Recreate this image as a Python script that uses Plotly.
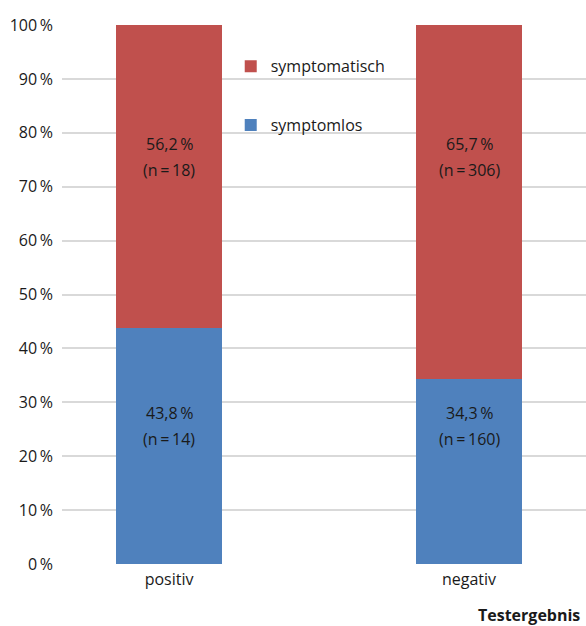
import plotly.graph_objects as go

# Share of patients with / without symptoms by test result (stacked to 100 %)
categories = ["positiv", "negativ"]
symptomlos_pct = [43.8, 34.3]
symptomlos_n = [14, 160]
symptomatisch_pct = [56.2, 65.7]
symptomatisch_n = [18, 306]
y_ticks = [0, 10, 20, 30, 40, 50, 60, 70, 80, 90, 100]

BLUE = "#4F81BD"
RED = "#C0504D"
FONT = "Open Sans"
FS = 16
TXT = "#1a1a1a"
THIN = "\u2009"

def fmt(v):
    return f"{v:.1f}".replace(".", ",") + THIN + "%"

xpos = list(range(len(categories)))

fig = go.Figure()
fig.add_trace(go.Bar(
    x=xpos, y=symptomlos_pct, name="symptomlos",
    marker=dict(color=BLUE, line=dict(width=0)),
    width=0.353, legendgroup="b", legendrank=2, hoverinfo="skip",
))
fig.add_trace(go.Bar(
    x=xpos, y=symptomatisch_pct, name="symptomatisch",
    marker=dict(color=RED, line=dict(width=0)),
    width=0.353, legendgroup="a", legendrank=1, hoverinfo="skip",
))

# value labels: percent line above, count line below
label_level_low = 25.6
label_level_high = 75.5

def add_label(x, level, pct, n):
    for text, shift in ((fmt(pct), 13), (f"(n{THIN}={THIN}{n})", -13)):
        fig.add_annotation(
            x=x, y=level, xref="x", yref="y", yshift=shift, showarrow=False,
            text=text, font=dict(family=FONT, size=FS, color=TXT),
        )

for i in xpos:
    add_label(i, label_level_low, symptomlos_pct[i], symptomlos_n[i])
    add_label(i, label_level_high, symptomatisch_pct[i], symptomatisch_n[i])

fig.add_annotation(
    x=1, y=0, xref="paper", yref="paper", yshift=-64, xshift=-4,
    xanchor="right", yanchor="bottom", showarrow=False,
    text="<b>Testergebnis</b>", font=dict(family=FONT, size=FS, color=TXT),
)

fig.update_layout(
    width=586, height=626,
    margin=dict(l=62, r=0, t=25, b=62),
    paper_bgcolor="white", plot_bgcolor="white",
    barmode="stack",
    font=dict(family=FONT, size=FS, color=TXT),
    showlegend=True,
    legend=dict(
        x=0.322, y=0.955, xanchor="left", yanchor="top",
        traceorder="grouped", tracegroupgap=35,
        font=dict(family=FONT, size=FS, color=TXT),
        bgcolor="rgba(0,0,0,0)",
    ),
    xaxis=dict(
        tickmode="array", tickvals=xpos, ticktext=categories,
        range=[-0.357, 1.39], showgrid=False, zeroline=False,
        showline=False, ticks="", ticklabelstandoff=4,
        tickfont=dict(family=FONT, size=FS, color=TXT),
    ),
    yaxis=dict(
        range=[0, 100], tickmode="array", tickvals=y_ticks,
        ticktext=[f"{t}{THIN}%" for t in y_ticks],
        showgrid=True, gridcolor="#d9d9d9", gridwidth=2,
        zeroline=False, showline=False, ticks="",
        ticklabelstandoff=8,
        tickfont=dict(family=FONT, size=FS, color=TXT),
    ),
)

fig.write_html("out.html")
